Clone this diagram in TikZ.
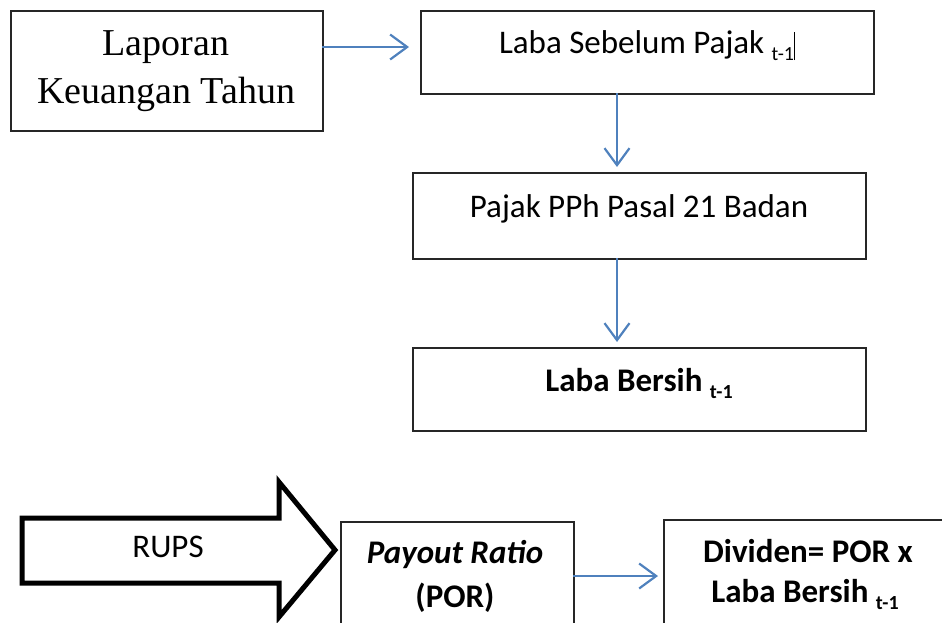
\documentclass[tikz,border=0pt]{standalone}
\usepackage{fontspec}
\setmainfont{Carlito}
\newfontfamily\serifface{Liberation Serif}
\usetikzlibrary{arrows.meta}
\definecolor{arrblue}{HTML}{4F81BD}
\newcommand{\subtm}{{\fontsize{20}{20}\selectfont\raisebox{-7pt}{t-1}}}
\newcommand{\subtb}{{\fontsize{20}{20}\selectfont\bfseries\raisebox{-7pt}{t-1}}}
\tikzset{
  boxnode/.style={draw=black!85, line width=1.6pt, inner sep=0pt, anchor=north west},
  txt/.style={anchor=base, inner sep=0pt, font=\fontsize{33}{40}\selectfont, text=black},
  sertxt/.style={anchor=base, inner sep=0pt, font=\serifface\fontsize{38}{46}\selectfont, text=black},
  arr/.style={draw=arrblue, line width=2.2pt, -{Straight Barb[length=17pt,width=25pt,line width=2.2pt]}},
}
\begin{document}
\begin{tikzpicture}[x=1pt,y=-1pt]
\useasboundingbox (0,0) rectangle (942,622);
\clip (0,0) rectangle (942,622);
% boxes
\node[boxnode, minimum width=312pt, minimum height=120pt] (b1) at (10,10) {};
\node[boxnode, minimum width=453pt, minimum height=83pt] (b2) at (420,10) {};
\node[boxnode, minimum width=453pt, minimum height=86pt] (b3) at (412,172) {};
\node[boxnode, minimum width=453pt, minimum height=83pt] (b4) at (412,347) {};
\node[boxnode, minimum width=233pt, minimum height=120pt] (b5) at (340,521) {};
\node[boxnode, minimum width=300pt, minimum height=120pt] (b6) at (663,519) {};
% texts
\node[sertxt] (t1a) at (166,55) {Laporan};
\node[sertxt] (t1b) at (166,103) {Keuangan Tahun};
\node[txt] (t2) at (647,53) {Laba Sebelum Pajak \subtm\rule[-7pt]{0.9pt}{28pt}};
\node[txt] (t3) at (639,217) {Pajak PPh Pasal 21 Badan};
\node[txt, font=\fontsize{33}{40}\selectfont\bfseries] (t4) at (639,391) {Laba Bersih \subtb};
\node[txt, font=\fontsize{33}{40}\selectfont\bfseries\itshape] (t5a) at (455,563) {Payout Ratio};
\node[txt, font=\fontsize{33}{40}\selectfont\bfseries] (t5b) at (455,607) {(POR)};
\node[txt, font=\fontsize{33}{40}\selectfont\bfseries] (t6a) at (808,562) {Dividen= POR x};
\node[txt, font=\fontsize{33}{40}\selectfont\bfseries] (t6b) at (805,602) {Laba Bersih \subtb};
% big arrow
\draw[line width=5pt, line join=miter, miter limit=10, draw=black]
  (22,518) -- (279,518) -- (279,482) -- (335,550) -- (279,617) -- (279,583) -- (22,583) -- cycle;
\node[txt] (rups) at (168,557) {RUPS};
% connectors
\coordinate (c1) at (322,47);
\coordinate (c2) at (617,93);
\coordinate (c3) at (617,258);
\coordinate (c4) at (573,576);
\draw[arr, shorten >=11pt] (c1) -- (c1 -| b2.west);
\draw[arr, shorten >=5pt] (c2) -- (c2 |- b3.north);
\draw[arr, shorten >=5pt] (c3) -- (c3 |- b4.north);
\draw[arr, shorten >=5pt] (c4) -- (c4 -| b6.west);
\end{tikzpicture}
\end{document}
